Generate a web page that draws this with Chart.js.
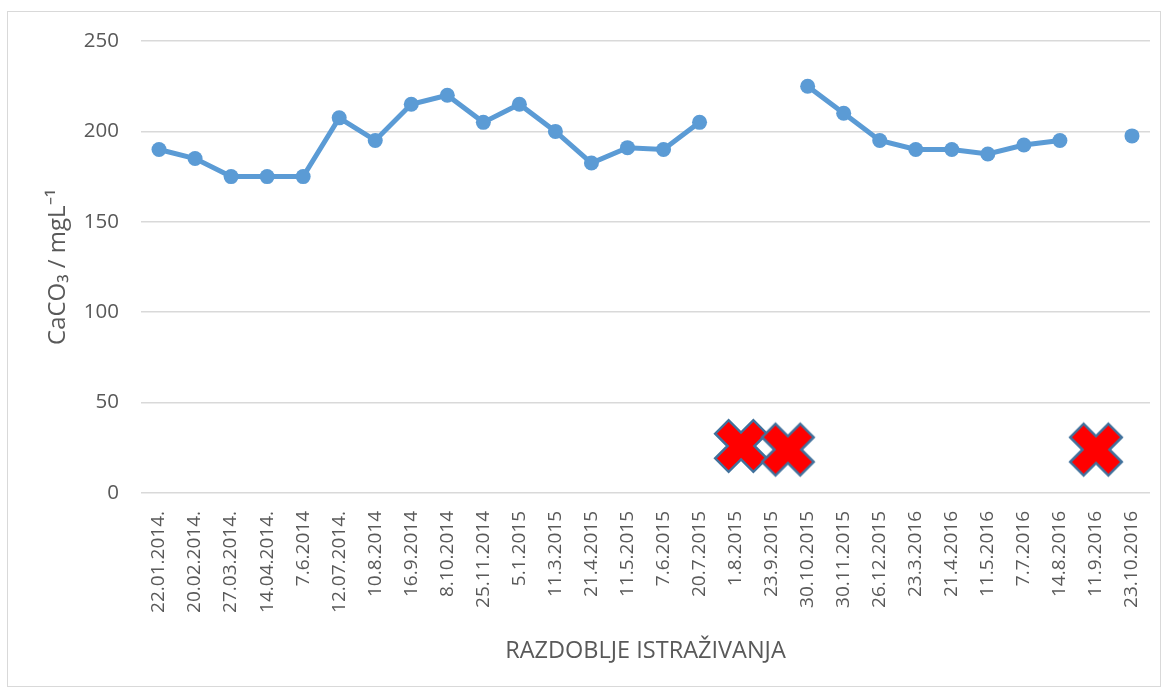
<!DOCTYPE html>
<html>
<head>
<meta charset="utf-8">
<script src="https://cdn.jsdelivr.net/npm/chart.js@4"></script>
<style>
  body { margin: 0; background: #fff; }
  #frame { position: absolute; left: 7px; top: 11px; width: 1152px; height: 674px; border: 1px solid #d9d9d9; }
  #chart { position: absolute; left: 0; top: 0; }
</style>
</head>
<body>
<div id="frame"></div>
<canvas id="chart" width="1167" height="691"></canvas>
<script>
// sampling dates
const dates = ['22.01.2014.', '20.02.2014.', '27.03.2014.', '14.04.2014.', '7.6.2014', '12.07.2014.',
    '10.8.2014', '16.9.2014', '8.10.2014', '25.11.2014', '5.1.2015', '11.3.2015', '21.4.2015',
    '11.5.2015', '7.6.2015', '20.7.2015', '1.8.2015', '23.9.2015', '30.10.2015', '30.11.2015',
    '26.12.2015', '23.3.2016', '21.4.2016', '11.5.2016', '7.7.2016', '14.8.2016', '11.9.2016', '23.10.2016'];

// CaCO3 in mg/L, null = no sample
const caco3 = [190, 185, 175, 175, 175, 207.5, 195, 215, 220, 205, 215, 200, 182.5, 191, 190, 205,
    null, null, 225, 210, 195, 190, 190, 187.5, 192.5, 195, null, 197.5];

// red crosses (dried out / no sample), x as category position
const crossX = [16.15, 17.45, 26];
const crossY = [26, 24, 24];

const yTicks = [0, 50, 100, 150, 200, 250];

function makeCross() {
    const c = document.createElement('canvas');
    c.width = 60; c.height = 60;
    const g = c.getContext('2d');
    const L = 27, w = 9.5;
    const pts = [[w, w], [L, w], [L, -w], [w, -w], [w, -L], [-w, -L], [-w, -w], [-L, -w], [-L, w], [-w, w], [-w, L], [w, L]];
    g.translate(30, 30);
    g.rotate(Math.PI / 4);
    g.beginPath();
    pts.forEach((p, i) => i ? g.lineTo(p[0], p[1]) : g.moveTo(p[0], p[1]));
    g.closePath();
    g.fillStyle = '#ff0000';
    g.fill();
    g.lineWidth = 2.5;
    g.strokeStyle = '#41719c';
    g.stroke();
    return c;
}

const font = "'Open Sans', sans-serif";

new Chart(document.getElementById('chart'), {
    type: 'line',
    data: {
        labels: dates,
        datasets: [{
            data: caco3,
            borderColor: '#5b9bd5',
            backgroundColor: '#5b9bd5',
            borderWidth: 5,
            pointRadius: 7.5,
            pointHoverRadius: 7.5,
            pointBorderWidth: 0,
            spanGaps: false,
            tension: 0
        }, {
            type: 'scatter',
            xAxisID: 'x2',
            data: crossX.map((x, i) => ({x: x, y: crossY[i]})),
            pointStyle: makeCross(),
            showLine: false
        }]
    },
    options: {
        responsive: false,
        animation: false,
        layout: {padding: {left: 0, right: 17, top: 41, bottom: 0}},
        plugins: {legend: {display: false}, tooltip: {enabled: false}},
        scales: {
            x: {
                offset: true,
                grid: {display: false},
                border: {display: false},
                ticks: {
                    maxRotation: 90, minRotation: 90, autoSkip: false, padding: 10,
                    color: '#595959', font: {family: font, size: 19}
                },
                title: {
                    display: true, text: 'RAZDOBLJE ISTRAŽIVANJA', color: '#595959',
                    font: {family: font, size: 23.5}, padding: {top: 0, bottom: 26}
                },
                afterFit: s => { s.height = 198; }
            },
            x2: {
                type: 'linear', display: false, min: -0.5, max: 27.5
            },
            y: {
                min: 0, max: 250,
                afterBuildTicks: s => { s.ticks = yTicks.map(v => ({value: v})); },
                grid: {color: '#d9d9d9', lineWidth: 1.5, drawTicks: false},
                border: {display: false},
                ticks: {padding: 22, color: '#595959', font: {family: font, size: 20.5}},
                title: {
                    display: true, text: 'CaCO₃ / mgL⁻¹', color: '#595959',
                    font: {family: font, size: 24}, padding: {top: 44, bottom: 0}
                },
                afterFit: s => { s.width = 141; }
            }
        }
    }
});
</script>
</body>
</html>
